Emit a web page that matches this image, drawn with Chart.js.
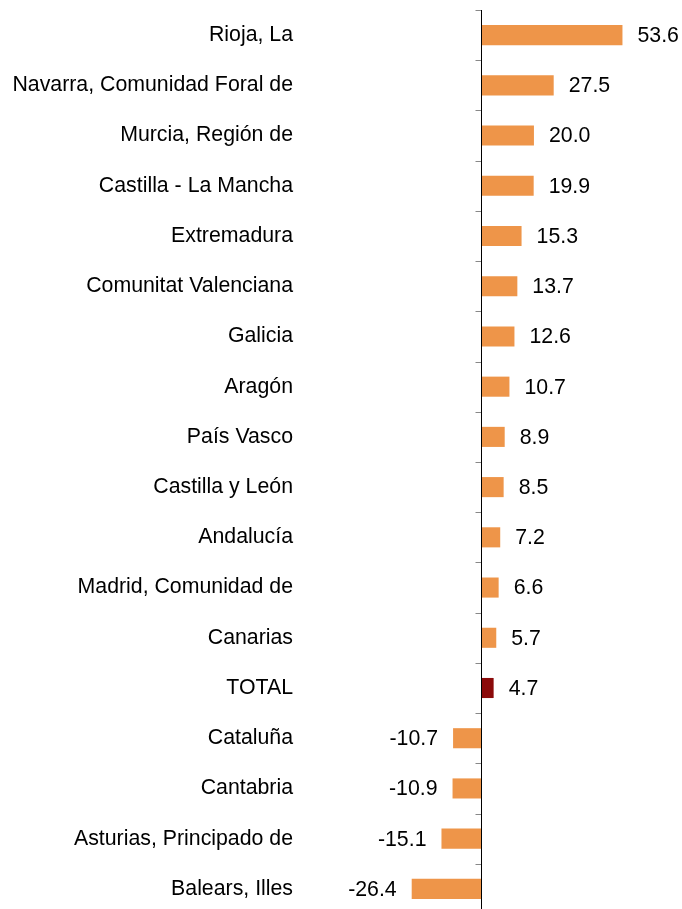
<!DOCTYPE html>
<html>
<head>
<meta charset="utf-8">
<script src="https://cdn.jsdelivr.net/npm/chart.js@4.4.1/dist/chart.umd.min.js"></script>
<style>
    html, body { margin: 0; padding: 0; background: #fff; overflow: hidden; }
    #wrap { position: relative; width: 682px; height: 914px; }
</style>
</head>
<body>
<div id="wrap"><canvas id="regionChart"></canvas></div>
<script>
// data
const regions = [
    "Rioja, La", "Navarra, Comunidad Foral de", "Murcia, Región de", "Castilla - La Mancha",
    "Extremadura", "Comunitat Valenciana", "Galicia", "Aragón", "País Vasco",
    "Castilla y León", "Andalucía", "Madrid, Comunidad de", "Canarias", "TOTAL",
    "Cataluña", "Cantabria", "Asturias, Principado de", "Balears, Illes"
];
const values = [53.6, 27.5, 20.0, 19.9, 15.3, 13.7, 12.6, 10.7, 8.9, 8.5, 7.2, 6.6, 5.7, 4.7, -10.7, -10.9, -15.1, -26.4];

const orange = "#ee9549";
const darkRed = "#8b0a0a";
const fontFamily = "'Liberation Sans', Arial, sans-serif";
const fontSize = 21.3;

// zero axis with small ticks between categories + value labels
const axisAndLabels = {
    id: "axisAndLabels",
    afterDatasetsDraw(chart) {
        const { ctx, chartArea, scales } = chart;
        const x0 = Math.round(scales.x.getPixelForValue(0)) + 0.5;

        ctx.save();
        ctx.strokeStyle = "#888";
        ctx.lineWidth = 1;
        for (let i = 0; i <= regions.length; i++) {
            const y = Math.round(scales.y.getPixelForValue(i - 0.5)) + 0.5;
            ctx.beginPath();
            ctx.moveTo(x0 - 6, y);
            ctx.lineTo(x0, y);
            ctx.stroke();
        }
        ctx.strokeStyle = "#000";
        ctx.beginPath();
        ctx.moveTo(x0, chartArea.top);
        ctx.lineTo(x0, chartArea.bottom);
        ctx.stroke();

        ctx.fillStyle = "#000";
        ctx.font = fontSize + "px " + fontFamily;
        ctx.textBaseline = "middle";
        chart.getDatasetMeta(0).data.forEach((bar, i) => {
            const v = values[i];
            if (v >= 0) {
                ctx.textAlign = "left";
                ctx.fillText(v.toFixed(1), bar.x + 15, bar.y + 1);
            } else {
                ctx.textAlign = "right";
                ctx.fillText(v.toFixed(1), bar.x - 15, bar.y + 1);
            }
        });
        ctx.restore();
    }
};

document.addEventListener("DOMContentLoaded", () => {
    const ctx = document.getElementById("regionChart").getContext("2d");

    new Chart(ctx, {
        type: "bar",
        data: {
            labels: regions,
            datasets: [{
                data: values,
                backgroundColor: regions.map(r => r === "TOTAL" ? darkRed : orange),
                borderWidth: 0,
                categoryPercentage: 1,
                barPercentage: 0.4,
            }],
        },
        options: {
            indexAxis: "y",
            responsive: true,
            maintainAspectRatio: false,
            animation: false,
            layout: { padding: { top: 10, right: 0, bottom: 0, left: 0 } },
            plugins: {
                legend: { display: false },
                tooltip: { enabled: false },
            },
            scales: {
                x: {
                    display: false,
                    min: -68.8,
                    max: 76.2,
                },
                y: {
                    afterFit(scale) {
                        scale.width = 300;
                        scale.paddingTop = 0;
                        scale.paddingBottom = 0;
                    },
                    grid: { display: false, drawTicks: false },
                    border: { display: false },
                    ticks: {
                        padding: 7,
                        color: "#000",
                        font: { family: fontFamily, size: fontSize },
                    },
                },
            },
        },
        plugins: [axisAndLabels],
    });
});
</script>
</body>
</html>
